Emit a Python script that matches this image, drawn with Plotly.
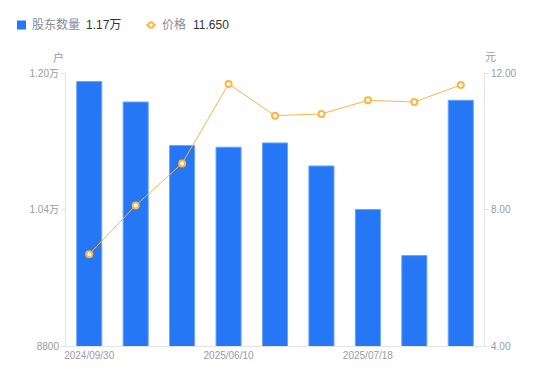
import plotly.graph_objects as go

dates = ["2024/09/30", "2024/12/31", "2025/03/31", "2025/06/10", "2025/06/30",
         "2025/07/10", "2025/07/18", "2025/07/31", "2025/08/10"]
holders = [11900, 11660, 11150, 11130, 11180, 10910, 10400, 9860, 11680]
prices = [6.69, 8.12, 9.35, 11.68, 10.75, 10.80, 11.20, 11.15, 11.65]
tick_dates = ["2024/09/30", "2025/06/10", "2025/07/18"]
left_ticks = [8800, 10400, 12000]
left_labels = ["8800", "1.04万", "1.20万"]
right_ticks = [4, 8, 12]
right_labels = ["4.00", "8.00", "12.00"]
legend_names = ["股东数量", "价格"]
legend_values = ["1.17万", "11.650"]

FONT = "Liberation Sans, Noto Sans CJK SC, sans-serif"
GRAY = "#9a9aa8"
BLUE = "#2577F5"
ORANGE = "#FFB53F"

# plot area in pixels (for placing legend items in paper coords)
L, R, T, B = 66, 484, 73, 346
def px(x):
    return (x - L) / (R - L)
def py(y):
    return (B - y) / (B - T)

fig = go.Figure()
fig.add_trace(go.Bar(
    x=dates, y=holders, name=legend_names[0],
    marker=dict(color=BLUE, line=dict(color="#6aa3f8", width=1)),
    width=0.54, yaxis="y",
))
fig.add_trace(go.Scatter(
    x=dates, y=prices, name=legend_names[1],
    mode="lines+markers",
    line=dict(color=ORANGE, width=1),
    marker=dict(symbol="circle", size=6, color="white",
                line=dict(color=ORANGE, width=2)),
    yaxis="y2",
))

ly = 25
annotations = [
    dict(text="户", xref="paper", yref="paper", x=px(58), y=py(57), xanchor="center",
         yanchor="middle", showarrow=False, font=dict(size=11, color=GRAY)),
    dict(text="元", xref="paper", yref="paper", x=px(490), y=py(57), xanchor="center",
         yanchor="middle", showarrow=False, font=dict(size=11, color=GRAY)),
    dict(text=legend_names[0], xref="paper", yref="paper", x=px(30), y=py(ly), xanchor="left",
         yanchor="middle", showarrow=False, font=dict(size=12, color="#8a8a99")),
    dict(text=legend_values[0], xref="paper", yref="paper", x=px(84), y=py(ly), xanchor="left",
         yanchor="middle", showarrow=False, font=dict(size=12, color="#333333")),
    dict(text=legend_names[1], xref="paper", yref="paper", x=px(160), y=py(ly), xanchor="left",
         yanchor="middle", showarrow=False, font=dict(size=12, color="#8a8a99")),
    dict(text=legend_values[1], xref="paper", yref="paper", x=px(191), y=py(ly), xanchor="left",
         yanchor="middle", showarrow=False, font=dict(size=12, color="#333333")),
]
shapes = [
    dict(type="rect", xref="paper", yref="paper", x0=px(17), x1=px(26), y0=py(29.5), y1=py(20.5),
         fillcolor=BLUE, line=dict(width=0)),
    dict(type="line", xref="paper", yref="paper", x0=px(146), x1=px(156), y0=py(ly), y1=py(ly),
         line=dict(color=ORANGE, width=1.5)),
    dict(type="circle", xref="paper", yref="paper", x0=px(148.3), x1=px(153.7),
         y0=py(ly + 2.7), y1=py(ly - 2.7), fillcolor="white", line=dict(color=ORANGE, width=2)),
]

fig.update_layout(
    width=550, height=381,
    margin=dict(l=L, r=550 - R, t=T, b=381 - B, autoexpand=False),
    paper_bgcolor="white", plot_bgcolor="white",
    font=dict(family=FONT, size=11, color=GRAY),
    showlegend=False,
    xaxis=dict(type="category", tickmode="array", tickvals=tick_dates, ticktext=tick_dates,
               showgrid=False, showline=True, linecolor="#e3e3e8", linewidth=1,
               ticks="", tickfont=dict(size=10, color=GRAY), range=[-0.5, 8.5]),
    yaxis=dict(range=[8800, 12000], tickmode="array", tickvals=left_ticks, ticktext=left_labels,
               showgrid=False, showline=True, linecolor="#e3e3e8", linewidth=1,
               ticks="outside", ticklen=4, tickcolor="#e3e3e8",
               tickfont=dict(size=10, color=GRAY), zeroline=False),
    yaxis2=dict(range=[4, 12], overlaying="y", side="right", tickmode="array",
                tickvals=right_ticks, ticktext=right_labels,
                showgrid=False, showline=True, linecolor="#e3e3e8", linewidth=1,
                ticks="outside", ticklen=4, tickcolor="#e3e3e8",
                tickfont=dict(size=10, color=GRAY), zeroline=False),
    annotations=annotations,
    shapes=shapes,
)
fig.write_html("out.html", config={"displayModeBar": False},
               post_script="document.body.style.margin='0';")
